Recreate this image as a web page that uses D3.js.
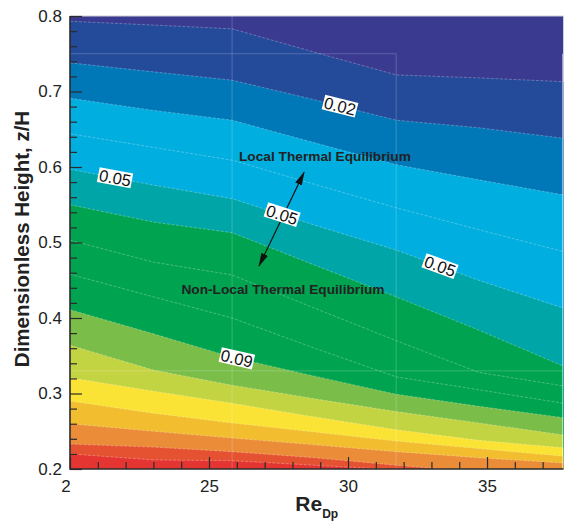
<!DOCTYPE html>
<html lang="en">
<head>
<meta charset="UTF-8">
<title>Contour of z/H vs Re_Dp</title>
<script src="https://cdn.jsdelivr.net/npm/d3@7/dist/d3.min.js"></script>
<style>
    body{ margin:0; background:#fff; }
    svg{ font-family:"Liberation Sans", Arial, sans-serif; }
    .axis path, .axis line{ stroke:#2b2b2b; }
    .axis path{ stroke-width:1.6px; }
    .axis line{ stroke-width:1.2px; }
    .axis text{ font-size:17px; fill:#222; }
    path.level{ fill:none; stroke:#fff; stroke-opacity:0.4; stroke-width:0.7px; stroke-dasharray:3,1.5; }
    line.mesh{ stroke:#fff; stroke-opacity:0.2; stroke-width:1px; }
    .note{ font-size:13.7px; font-weight:bold; fill:#222; }
    .clabel{ font-size:16.5px; fill:#111; }
</style>
</head>
<body>
<svg id="main" width="567" height="522"></svg>
<script>
    let reCols = [20, 23, 25.83, 28.8, 31.73, 34.7, 37.75];
    // contour levels
    let levels = [0.01, 0.02, 0.03, 0.04, 0.05, 0.06, 0.07, 0.08, 0.09, 0.10, 0.11, 0.12, 0.13, 0.14, 0.15];
    // z/H of each contour level at every column
    let z01 = [0.793, 0.788, 0.783, 0.752, 0.722, 0.718, 0.713];
    let z02 = [0.738, 0.726, 0.715, 0.689, 0.662, 0.652, 0.638];
    let z03 = [0.691, 0.675, 0.662, 0.632, 0.603, 0.583, 0.563];
    let z04 = [0.644, 0.626, 0.609, 0.577, 0.546, 0.517, 0.488];
    let z05 = [0.597, 0.576, 0.558, 0.523, 0.490, 0.450, 0.413];
    let z06 = [0.550, 0.527, 0.513, 0.470, 0.428, 0.384, 0.336];
    let z07 = [0.503, 0.474, 0.457, 0.413, 0.370, 0.328, 0.310];
    let z08 = [0.458, 0.428, 0.400, 0.360, 0.322, 0.305, 0.287];
    let z09 = [0.411, 0.379, 0.348, 0.323, 0.299, 0.283, 0.268];
    let z10 = [0.364, 0.331, 0.311, 0.293, 0.276, 0.261, 0.245];
    let z11 = [0.321, 0.303, 0.287, 0.269, 0.252, 0.238, 0.228];
    let z12 = [0.290, 0.274, 0.261, 0.249, 0.237, 0.227, 0.217];
    let z13 = [0.260, 0.250, 0.241, 0.232, 0.223, 0.215, 0.208];
    let z14 = [0.233, 0.229, 0.223, 0.215, 0.205, 0.196, 0.191];
    let z15 = [0.220, 0.212, 0.211, 0.205, 0.199, 0.191, 0.183];
    let levelZ = [z01, z02, z03, z04, z05, z06, z07, z08, z09, z10, z11, z12, z13, z14, z15];
    // fill above the first level, then the fill below each level
    let topFill = "#3a3a91";
    let belowFill = ["#244a9a", "#0078b7", "#00aee0", "#00aee0", "#00a6a7", "#00a34f", "#00a34f", "#00a34f",
                     "#7abd49", "#c3d442", "#fae334", "#f2bd2e", "#eb8c39", "#e55231", "#e43533"];

    // inline contour labels
    let labelLevel = [0.05, 0.02, 0.05, 0.05, 0.09];
    let labelRe    = [21.62, 29.71, 27.63, 33.31, 26.0];
    let labelText  = ["0.05", "0.02", "0.05", "0.05", "0.09"];

    // ticks
    let xMajor = [20, 25, 30, 35];
    let xMajorLabels = ["2", "25", "30", "35"];
    let xMinor = d3.range(21, 38).filter(function(d){ return d % 5 != 0; });
    let yMajor = [0.2, 0.3, 0.4, 0.5, 0.6, 0.7, 0.8];
    let yMinor = [0.22, 0.24, 0.26, 0.28, 0.32, 0.34, 0.36, 0.38, 0.42, 0.44, 0.46, 0.48,
                  0.52, 0.54, 0.56, 0.58, 0.62, 0.64, 0.66, 0.68, 0.72, 0.74, 0.76, 0.78];
    // mesh block edges (faint lines)
    let meshRe = [25.83, 31.73];
    let meshZ = [0.75, 0.33];

    // annotation
    let noteText = ["Local Thermal Equilibrium", "Non-Local Thermal Equilibrium"];
    let noteRe = [29.17, 27.66];
    let noteZ = [0.6146, 0.4384];
    let arrowFrom = [28.42, 0.593];
    let arrowTo = [26.80, 0.469];

    let svg = d3.select('svg#main');
    let xScale = d3.scaleLinear().domain([20, 37.75]).range([70, 563.5]);
    let yScale = d3.scaleLinear().domain([0.2, 0.8]).range([469, 16]);

    svg.append('defs').append('clipPath').attr('id', 'plotClip')
        .append('rect')
        .attr('x', xScale(20)).attr('y', yScale(0.8))
        .attr('width', xScale(37.75) - xScale(20))
        .attr('height', yScale(0.2) - yScale(0.8));

    let plot = svg.append('g').attr('clip-path', 'url(#plotClip)');

    // background above first contour
    plot.append('rect')
        .attr('x', xScale(20)).attr('y', yScale(0.8))
        .attr('width', xScale(37.75) - xScale(20))
        .attr('height', yScale(0.2) - yScale(0.8))
        .attr('fill', topFill);

    // paint each level's region below it, top to bottom
    let below = d3.area()
        .x(function(d, i){ return xScale(reCols[i]); })
        .y0(yScale(0.15))
        .y1(function(d){ return yScale(d); });
    levelZ.forEach(function(zs, k){
        plot.append('path').attr('d', below(zs)).attr('fill', belowFill[k]);
    });

    // mesh lines
    plot.append('line').attr('class', 'mesh')
        .attr('x1', xScale(meshRe[0])).attr('x2', xScale(meshRe[0]))
        .attr('y1', yScale(0.8)).attr('y2', yScale(0.2));
    plot.append('line').attr('class', 'mesh')
        .attr('x1', xScale(meshRe[1])).attr('x2', xScale(meshRe[1]))
        .attr('y1', yScale(meshZ[0])).attr('y2', yScale(0.2));
    plot.append('line').attr('class', 'mesh')
        .attr('x1', xScale(20)).attr('x2', xScale(meshRe[1]))
        .attr('y1', yScale(meshZ[0])).attr('y2', yScale(meshZ[0]));
    plot.append('line').attr('class', 'mesh')
        .attr('x1', xScale(20)).attr('x2', xScale(37.75))
        .attr('y1', yScale(meshZ[1])).attr('y2', yScale(meshZ[1]));
    plot.append('line').attr('class', 'mesh').style('stroke-opacity', 0.5)
        .attr('x1', xScale(37.75) - 1).attr('x2', xScale(37.75) - 1)
        .attr('y1', yScale(meshZ[0])).attr('y2', yScale(0.2));

    // contour lines
    let line = d3.line()
        .x(function(d, i){ return xScale(reCols[i]); })
        .y(function(d){ return yScale(d); });
    levelZ.forEach(function(zs){
        plot.append('path').attr('class', 'level').attr('d', line(zs));
    });

    // top border
    svg.append('line')
        .attr('x1', xScale(20)).attr('x2', xScale(37.75))
        .attr('y1', yScale(0.8)).attr('y2', yScale(0.8))
        .attr('stroke', '#cfcfd8').attr('stroke-width', 1);

    // arrow
    let defs = svg.select('defs');
    defs.append('marker').attr('id', 'head')
        .attr('viewBox', '0 -5 14 10').attr('refX', 13).attr('refY', 0)
        .attr('markerUnits', 'userSpaceOnUse')
        .attr('markerWidth', 14).attr('markerHeight', 10)
        .attr('orient', 'auto-start-reverse')
        .append('path').attr('d', 'M0,-3.6L14,0L0,3.6Z').attr('fill', '#111');
    svg.append('line')
        .attr('x1', xScale(arrowFrom[0])).attr('y1', yScale(arrowFrom[1]))
        .attr('x2', xScale(arrowTo[0])).attr('y2', yScale(arrowTo[1]))
        .attr('stroke', '#111').attr('stroke-width', 1.2)
        .attr('marker-start', 'url(#head)').attr('marker-end', 'url(#head)');

    // contour labels, turned along their line
    function zAt(zs, re){
        for (let i = 0; i < reCols.length - 1; i++){
            if (re <= reCols[i + 1]){
                let t = (re - reCols[i]) / (reCols[i + 1] - reCols[i]);
                return {z: zs[i] + t * (zs[i + 1] - zs[i]), i: i};
            }
        }
    }
    labelText.forEach(function(txt, k){
        let zs = levelZ[levels.indexOf(labelLevel[k])];
        let p = zAt(zs, labelRe[k]);
        let px = xScale(labelRe[k]), py = yScale(p.z);
        let dx = xScale(reCols[p.i + 1]) - xScale(reCols[p.i]);
        let dy = yScale(zs[p.i + 1]) - yScale(zs[p.i]);
        let ang = Math.atan2(dy, dx) * 180 / Math.PI;
        let g = svg.append('g').attr('transform', 'translate(' + px + ',' + py + ') rotate(' + ang + ')');
        let t = g.append('text').attr('class', 'clabel')
            .attr('text-anchor', 'middle').attr('dy', '0.36em').text(txt);
        let bb = t.node().getBBox();
        g.insert('rect', 'text')
            .attr('x', bb.x - 1).attr('y', bb.y + 1.5)
            .attr('width', bb.width + 2).attr('height', bb.height - 3)
            .attr('fill', '#fff');
    });

    // notes
    noteText.forEach(function(txt, k){
        svg.append('text').attr('class', 'note')
            .attr('x', xScale(noteRe[k])).attr('y', yScale(noteZ[k]))
            .attr('dy', '0.36em').attr('text-anchor', 'middle').text(txt);
    });

    // axes
    let xAxis = svg.append('g').attr('class', 'axis')
        .attr('transform', 'translate(0,' + yScale(0.2) + ')')
        .call(d3.axisBottom(xScale).tickValues(xMajor)
            .tickFormat(function(d, i){ return xMajorLabels[i]; })
            .tickSize(-12).tickSizeOuter(0).tickPadding(11));
    xAxis.select('.domain').remove();
    xAxis.selectAll('.tick text').filter(function(d){ return d == 20; }).attr('dx', -4.5);
    svg.append('g').attr('class', 'axis')
        .attr('transform', 'translate(0,' + yScale(0.2) + ')')
        .call(d3.axisBottom(xScale).tickValues(xMinor).tickFormat('').tickSize(-7).tickSizeOuter(0))
        .select('.domain').remove();

    let yAxis = svg.append('g').attr('class', 'axis')
        .attr('transform', 'translate(' + xScale(20) + ',0)')
        .call(d3.axisLeft(yScale).tickValues(yMajor).tickFormat(d3.format('.1f'))
            .tickSize(-12).tickSizeOuter(0).tickPadding(8));
    yAxis.select('.domain').remove();
    svg.append('g').attr('class', 'axis')
        .attr('transform', 'translate(' + xScale(20) + ',0)')
        .call(d3.axisLeft(yScale).tickValues(yMinor).tickFormat('').tickSize(-7).tickSizeOuter(0))
        .select('.domain').remove();

    // axis lines
    svg.append('path')
        .attr('d', 'M' + xScale(20) + ',' + yScale(0.8) + 'V' + yScale(0.2) + 'H' + xScale(37.75))
        .attr('fill', 'none').attr('stroke', '#2b2b2b').attr('stroke-width', 1.6);

    // titles
    svg.append('text')
        .attr('transform', 'translate(29,239) rotate(-90)')
        .attr('text-anchor', 'middle')
        .style('font-size', '20.5px').style('font-weight', 'bold').style('fill', '#222')
        .text('Dimensionless Height, z/H');
    let xt = svg.append('text')
        .attr('x', (xScale(20) + xScale(37.75)) / 2).attr('y', 511)
        .attr('text-anchor', 'middle')
        .style('font-weight', 'bold').style('fill', '#222');
    xt.append('tspan').style('font-size', '21px').text('Re');
    xt.append('tspan').style('font-size', '12px').attr('dy', 7).text('Dp');
</script>
</body>
</html>
